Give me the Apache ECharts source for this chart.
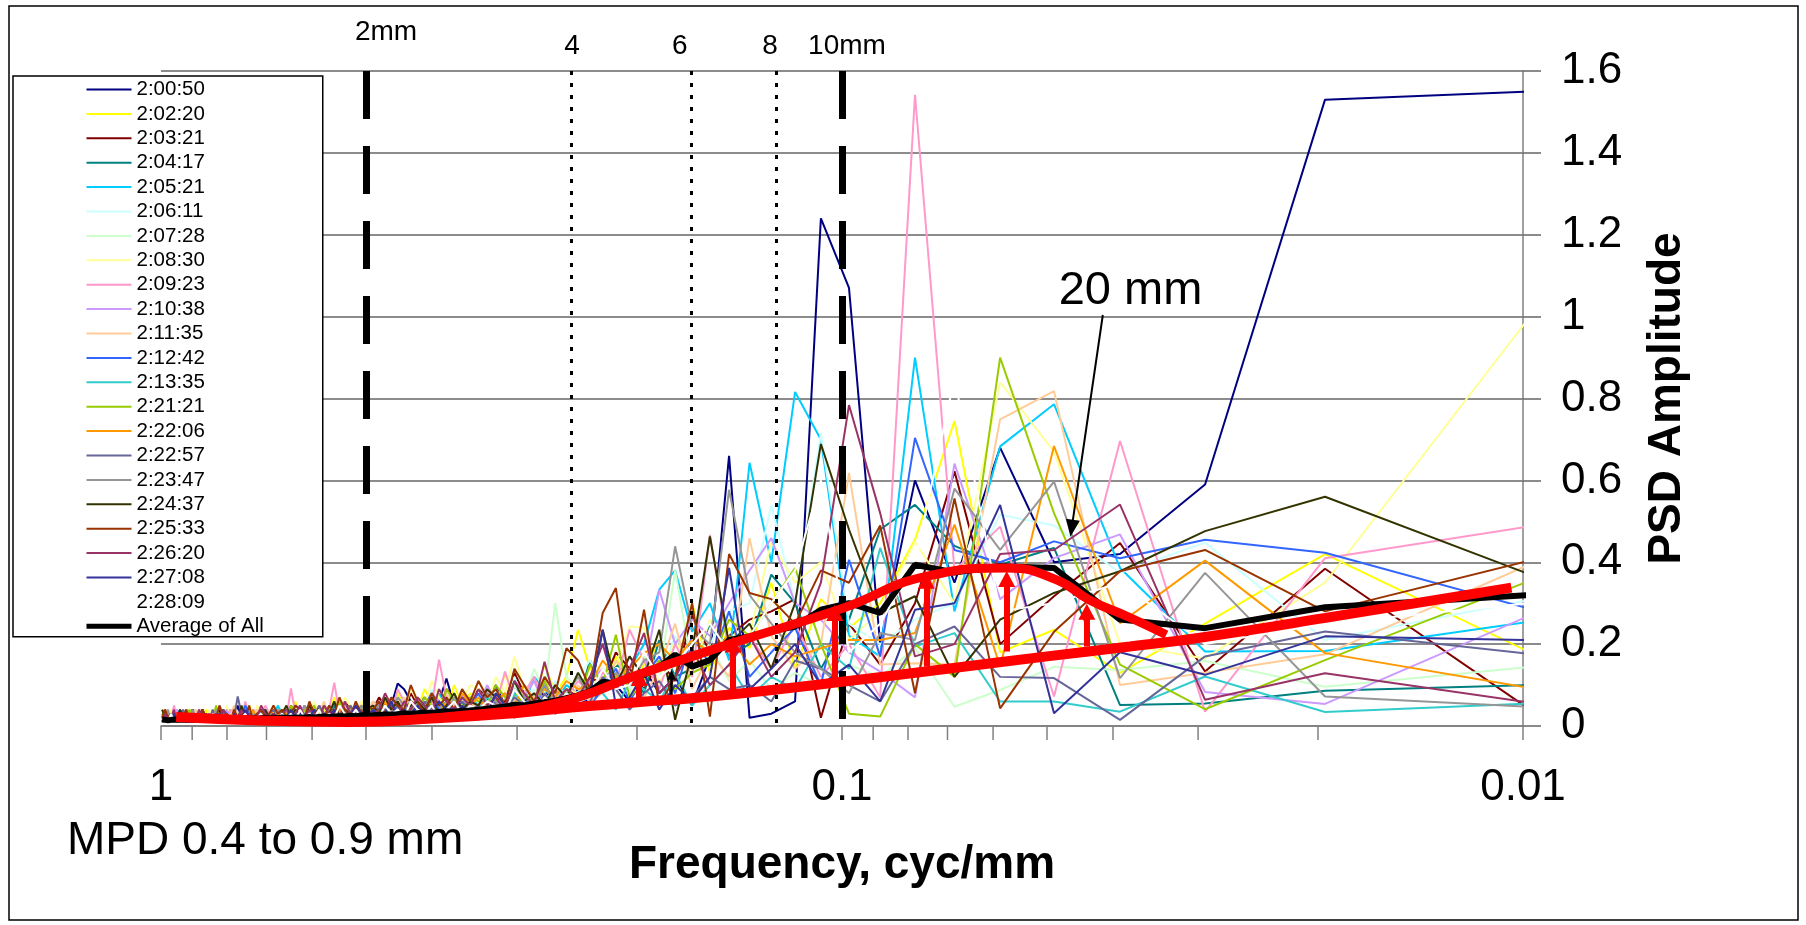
<!DOCTYPE html>
<html lang="en">
<head>
<meta charset="UTF-8">
<title>PSD Amplitude</title>
<script src="https://cdn.jsdelivr.net/npm/echarts@6/dist/echarts.min.js"></script>
<style>
    html, body { margin: 0; padding: 0; background: #fff; }
    #chart { width: 1806px; height: 925px; }
</style>
</head>
<body>
<div id="chart"></div>
<script type="text/javascript">
// frequency of each PSD point, cyc/mm (k / 102.4, k = 1..102)
var freqs = [
    0.00977, 0.01953, 0.02930, 0.03906, 0.04883, 0.05859, 0.06836, 0.07813, 0.08789, 0.09766,
    0.1074, 0.1172, 0.1270, 0.1367, 0.1465, 0.1563, 0.1660, 0.1758, 0.1855, 0.1953,
    0.2051, 0.2148, 0.2246, 0.2344, 0.2441, 0.2539, 0.2637, 0.2734, 0.2832, 0.2930,
    0.3027, 0.3125, 0.3223, 0.3320, 0.3418, 0.3516, 0.3613, 0.3711, 0.3809, 0.3906,
    0.4004, 0.4102, 0.4199, 0.4297, 0.4395, 0.4492, 0.4590, 0.4688, 0.4785, 0.4883,
    0.4980, 0.5078, 0.5176, 0.5273, 0.5371, 0.5469, 0.5566, 0.5664, 0.5762, 0.5859,
    0.5957, 0.6055, 0.6152, 0.6250, 0.6348, 0.6445, 0.6543, 0.6641, 0.6738, 0.6836,
    0.6934, 0.7031, 0.7129, 0.7227, 0.7324, 0.7422, 0.7520, 0.7617, 0.7715, 0.7813,
    0.7910, 0.8008, 0.8105, 0.8203, 0.8301, 0.8398, 0.8496, 0.8594, 0.8691, 0.8789,
    0.8887, 0.8984, 0.9082, 0.9180, 0.9277, 0.9375, 0.9473, 0.9570, 0.9668, 0.9766,
    0.9863, 0.9961
];

// PSD amplitude per run, same order as freqs
var run_2_00_50 = [1.55,1.53,.59,.42,.40,.68,.35,.60,.20,1.07,1.24,.06,
    .03,.02,.66,.17,.05,.12,.08,.14,.06,.10,.10,.05,.09,
    .07,.05,.09,.04,.06,.08,.05,.10,.06,.04,
    .05,.07,.05,.116,.06,.04,.07,.05,.06,.09,.104,.05,.03,.06,.04,
    .03,.05,.04,.02,.06,.03,.04,.05,.02,.03,.04,.02,.05,.03,.02,.04,.03,.02,.03,.04,
    .02,.03,.02,.04,.02,.01,.03,.02,.05,.02,.03,.01,.02,.04,.02,.03,.02,.01,.03,.02,.02,.04,.02,.03,.01,.02,.03,.02,.01,.03,.02,.02];
var run_2_02_20 = [.18,.42,.25,.13,.235,.18,.745,.455,.30,.24,.31,.14,
    .35,.19,.24,.13,.30,.12,.20,.15,.09,.17,.11,.14,.235,
    .12,.08,.15,.06,.10,.07,.13,.05,.09,.06,
    .08,.05,.10,.04,.07,.06,.09,.04,.06,.05,.08,.03,.06,.04,.05,
    .04,.06,.03,.05,.02,.04,.07,.03,.04,.02,.05,.03,.04,.02,.06,.03,.02,.04,.03,.02,
    .03,.02,.04,.02,.03,.05,.02,.01,.03,.02,.04,.02,.03,.01,.02,.03,.02,.04,.01,.02,.03,.02,.01,.03,.02,.04,.02,.01,.03,.02,.03,.04];
var run_2_03_21 = [.04,.384,.133,.447,.317,.20,.622,.30,.15,.25,.02,.31,
    .28,.26,.22,.18,.27,.11,.16,.09,.14,.18,.10,.12,.07,
    .09,.06,.11,.05,.08,.13,.06,.04,.07,.09,
    .05,.03,.07,.09,.04,.06,.03,.05,.08,.04,.06,.03,.05,.07,.04,
    .03,.05,.02,.04,.06,.03,.02,.04,.03,.05,.02,.03,.04,.02,.03,.05,.02,.03,.04,.02,
    .02,.04,.01,.03,.02,.03,.02,.04,.02,.01,.03,.02,.03,.01,.04,.02,.02,.03,.01,.02,.03,.04,.02,.01,.02,.03,.02,.03,.01,.02,.04,.02];
var run_2_04_17 = [.10,.086,.055,.051,.435,.394,.44,.54,.48,.26,.14,.30,
    .37,.20,.17,.25,.14,.12,.21,.08,.13,.15,.10,.16,.06,
    .05,.08,.04,.07,.10,.05,.03,.06,.08,.04,
    .03,.06,.04,.02,.05,.07,.03,.04,.02,.05,.03,.06,.02,.04,.03,
    .02,.04,.03,.01,.03,.02,.05,.02,.03,.01,.04,.02,.03,.02,.01,.03,.02,.04,.02,.01,
    .02,.01,.03,.02,.01,.02,.03,.01,.02,.04,.01,.02,.01,.03,.02,.01,.02,.03,.01,.02,.02,.01,.03,.02,.01,.02,.01,.03,.02,.01,.02,.01];
var run_2_05_21 = [.255,.183,.182,.386,.786,.683,.28,.90,.17,.22,.70,.816,
    .40,.643,.16,.30,.23,.38,.333,.20,.14,.12,.10,.11,.08,
    .10,.06,.09,.12,.05,.07,.04,.08,.06,.05,
    .07,.04,.06,.03,.08,.05,.04,.06,.03,.05,.07,.04,.03,.05,.02,
    .04,.03,.05,.02,.04,.03,.06,.02,.03,.04,.02,.05,.03,.02,.04,.03,.02,.03,.05,.02,
    .03,.02,.04,.02,.01,.03,.02,.03,.01,.02,.04,.02,.03,.02,.01,.03,.02,.02,.04,.01,.02,.03,.02,.01,.03,.02,.02,.04,.01,.03,.02,.03];
var run_2_06_11 = [.308,.21,.448,.374,.49,.516,.30,.26,.20,.25,.715,.30,
    .54,.30,.28,.20,.15,.22,.12,.18,.09,.14,.11,.16,.12,
    .07,.11,.05,.09,.06,.12,.04,.08,.05,.07,
    .06,.04,.08,.03,.05,.09,.04,.06,.03,.07,.04,.05,.03,.06,.04,
    .03,.05,.02,.04,.03,.05,.02,.03,.06,.02,.04,.03,.02,.05,.03,.02,.04,.02,.03,.02,
    .02,.03,.02,.04,.01,.02,.03,.02,.01,.03,.02,.04,.02,.01,.03,.02,.03,.01,.02,.03,.02,.01,.04,.02,.02,.03,.01,.02,.03,.02,.01,.02];
var run_2_07_28 = [.144,.096,.159,.137,.145,.088,.047,.19,.12,.15,.10,.13,
    .09,.16,.11,.20,.14,.38,.12,.17,.08,.13,.10,.06,.09,
    .12,.30,.08,.14,.06,.10,.05,.09,.07,.11,
    .05,.08,.04,.06,.09,.03,.05,.07,.04,.06,.03,.05,.08,.04,.03,
    .05,.03,.04,.02,.06,.03,.04,.02,.05,.03,.02,.04,.03,.05,.02,.03,.04,.02,.03,.02,
    .03,.02,.01,.03,.02,.04,.02,.03,.01,.02,.03,.02,.04,.01,.02,.03,.02,.01,.03,.02,.04,.02,.01,.03,.02,.02,.03,.01,.02,.04,.02,.03];
var run_2_08_30 = [1.0,.35,.165,.20,.67,.84,.30,.45,.28,.21,.40,.35,
    .45,.22,.18,.26,.13,.21,.10,.24,.243,.15,.12,.10,.08,
    .09,.06,.11,.07,.09,.17,.08,.12,.05,.09,
    .10,.06,.08,.04,.07,.11,.05,.06,.09,.04,.07,.05,.08,.03,.06,
    .04,.06,.03,.05,.07,.03,.04,.02,.05,.03,.06,.02,.04,.03,.05,.02,.03,.04,.02,.03,
    .04,.02,.03,.05,.02,.03,.01,.04,.02,.03,.02,.05,.01,.02,.03,.02,.04,.02,.01,.03,.02,.03,.04,.02,.01,.03,.02,.02,.04,.01,.03,.02];
var run_2_09_23 = [.488,.41,.035,.696,.072,.487,.38,1.542,.07,.20,.12,.25,
    .14,.22,.18,.467,.12,.20,.09,.16,.235,.10,.13,.08,.11,
    .07,.10,.05,.12,.08,.06,.133,.05,.09,.04,
    .06,.08,.04,.07,.162,.05,.03,.07,.04,.06,.09,.03,.05,.04,.06,
    .03,.05,.04,.02,.06,.03,.106,.04,.02,.05,.03,.04,.02,.05,.03,.092,.02,.04,.03,.02,
    .03,.05,.02,.03,.04,.02,.06,.02,.03,.01,.04,.02,.03,.05,.02,.01,.03,.02,.04,.02,.03,.01,.02,.04,.02,.03,.02,.05,.01,.02,.03,.02];
var run_2_10_38 = [.27,.054,.083,.468,.41,.31,.641,.07,.133,.18,.26,.30,
    .459,.38,.30,.22,.26,.20,.333,.12,.17,.09,.14,.11,.08,
    .06,.09,.05,.11,.07,.04,.08,.06,.10,.05,
    .04,.07,.05,.03,.06,.08,.04,.05,.03,.07,.04,.06,.03,.05,.04,
    .03,.02,.05,.03,.04,.02,.03,.05,.02,.04,.03,.02,.05,.03,.02,.04,.03,.02,.04,.03,
    .02,.03,.01,.02,.04,.02,.03,.02,.01,.03,.02,.04,.02,.03,.01,.02,.03,.02,.01,.04,.02,.03,.02,.01,.02,.03,.04,.02,.01,.03,.02,.02];
var run_2_11_35 = [.395,.175,.13,.10,.818,.749,.15,.153,.15,.618,.20,.14,
    .22,.459,.12,.18,.09,.25,.14,.07,.12,.16,.08,.06,.10,
    .05,.08,.04,.07,.10,.06,.03,.08,.05,.04,
    .06,.03,.05,.08,.04,.02,.06,.04,.05,.07,.03,.05,.02,.04,.06,
    .02,.04,.03,.05,.02,.03,.04,.02,.06,.03,.02,.04,.03,.02,.05,.03,.02,.03,.04,.02,
    .03,.01,.02,.04,.02,.03,.02,.01,.03,.05,.02,.02,.03,.01,.04,.02,.03,.02,.01,.02,.04,.02,.03,.01,.02,.03,.02,.01,.03,.02,.04,.02];
var run_2_12_42 = [.286,.423,.455,.41,.451,.40,.43,.704,.17,.406,.10,.24,
    .18,.12,.28,.15,.22,.08,.17,.12,.06,.14,.09,.05,.07,
    .08,.05,.10,.04,.07,.09,.05,.06,.03,.08,
    .05,.07,.03,.06,.04,.08,.05,.03,.06,.04,.05,.07,.03,.04,.05,
    .04,.02,.05,.03,.04,.06,.02,.03,.05,.02,.04,.03,.02,.04,.05,.02,.03,.04,.02,.03,
    .02,.04,.03,.01,.02,.03,.05,.02,.01,.03,.02,.03,.04,.02,.01,.02,.03,.02,.04,.01,.03,.02,.02,.03,.01,.04,.02,.03,.02,.01,.02,.03];
var run_2_13_35 = [.055,.034,.121,.035,.06,.06,.227,.194,.435,.14,.20,.09,
    .12,.07,.15,.10,.05,.13,.06,.09,.11,.04,.08,.10,.05,
    .04,.07,.03,.06,.05,.08,.03,.05,.07,.04,
    .03,.05,.04,.02,.06,.03,.05,.04,.02,.04,.03,.05,.02,.03,.04,
    .02,.03,.04,.02,.03,.01,.04,.02,.03,.02,.04,.01,.03,.02,.03,.04,.02,.01,.03,.02,
    .01,.02,.03,.01,.02,.01,.03,.02,.01,.02,.03,.01,.02,.02,.01,.03,.02,.01,.02,.01,.03,.02,.01,.02,.02,.01,.03,.01,.02,.01,.02,.02];
var run_2_21_21 = [.355,.161,.041,.15,.52,.90,.12,.20,.023,.03,.20,.386,
    .30,.22,.26,.15,.13,.09,.16,.11,.07,.223,.10,.15,.06,
    .09,.05,.11,.06,.08,.04,.07,.10,.05,.06,
    .07,.04,.06,.09,.03,.05,.07,.04,.06,.03,.05,.04,.07,.03,.05,
    .03,.05,.02,.04,.03,.06,.02,.04,.03,.02,.05,.03,.04,.02,.03,.05,.02,.04,.03,.02,
    .02,.03,.04,.02,.01,.03,.02,.04,.02,.03,.01,.02,.03,.02,.05,.01,.02,.03,.02,.01,.03,.02,.04,.02,.01,.03,.02,.02,.03,.01,.02,.03];
var run_2_22_06 = [.093,.178,.404,.251,.684,.145,.492,.227,.21,.21,.19,.17,
    .20,.15,.22,.18,.21,.16,.20,.178,.14,.12,.16,.10,.09,
    .11,.07,.09,.06,.10,.05,.08,.06,.04,.07,
    .05,.08,.04,.06,.03,.07,.05,.04,.06,.03,.05,.04,.06,.03,.04,
    .03,.04,.02,.05,.03,.04,.02,.03,.05,.02,.03,.04,.02,.03,.02,.04,.03,.02,.03,.04,
    .02,.03,.02,.01,.04,.02,.03,.02,.01,.03,.02,.02,.04,.01,.02,.03,.02,.01,.03,.02,.03,.01,.02,.04,.02,.01,.03,.02,.02,.03,.01,.02];
var run_2_22_57 = [.176,.231,.17,.015,.117,.12,.243,.20,.06,.10,.14,.16,
    .06,.10,.09,.12,.07,.05,.11,.08,.04,.09,.12,.06,.05,
    .06,.04,.08,.03,.05,.07,.04,.06,.03,.05,
    .04,.06,.03,.05,.02,.04,.06,.03,.04,.02,.05,.03,.04,.06,.03,
    .02,.04,.03,.05,.02,.03,.04,.02,.03,.05,.02,.04,.03,.02,.03,.04,.02,.03,.02,.04,
    .03,.02,.04,.02,.01,.03,.02,.03,.072,.02,.03,.01,.02,.03,.02,.04,.01,.02,.03,.02,.02,.01,.03,.02,.04,.02,.01,.03,.02,.02,.03,.01];
var run_2_23_47 = [.047,.072,.374,.117,.597,.43,.58,.21,.227,.08,.14,.18,
    .25,.32,.577,.20,.24,.439,.18,.16,.10,.13,.09,.07,.12,
    .08,.06,.10,.05,.07,.09,.04,.06,.08,.05,
    .06,.04,.07,.03,.05,.08,.04,.06,.03,.05,.07,.04,.03,.05,.04,
    .03,.05,.02,.04,.03,.05,.02,.04,.03,.02,.04,.03,.05,.02,.03,.04,.02,.03,.04,.02,
    .03,.02,.04,.02,.03,.01,.02,.04,.02,.03,.02,.01,.03,.02,.04,.02,.03,.01,.02,.03,.02,.04,.01,.02,.03,.02,.02,.03,.01,.04,.02,.02];
var run_2_24_37 = [.37,.56,.476,.378,.325,.26,.12,.317,.276,.48,.689,.30,
    .14,.25,.20,.463,.18,.015,.235,.12,.17,.10,.235,.08,.13,
    .07,.10,.05,.08,.06,.11,.04,.07,.09,.05,
    .06,.04,.08,.05,.03,.07,.04,.06,.05,.03,.06,.04,.07,.03,.05,
    .04,.02,.05,.03,.04,.02,.06,.03,.02,.04,.03,.05,.02,.03,.04,.02,.05,.03,.02,.03,
    .02,.04,.01,.03,.02,.03,.02,.05,.01,.02,.03,.02,.04,.02,.01,.03,.02,.02,.04,.01,.03,.02,.03,.01,.02,.04,.02,.01,.03,.02,.02,.04];
var run_2_25_33 = [.404,.28,.43,.378,.23,.043,.556,.08,.49,.35,.38,.25,
    .31,.325,.42,.023,.30,.12,.05,.284,.10,.337,.276,.09,.16,
    .19,.08,.12,.06,.10,.14,.05,.09,.07,.11,
    .06,.09,.04,.07,.05,.08,.03,.06,.10,.04,.05,.07,.03,.06,.04,
    .05,.03,.06,.02,.04,.07,.03,.05,.02,.04,.03,.06,.02,.04,.05,.03,.02,.04,.03,.05,
    .03,.02,.04,.03,.01,.05,.02,.03,.02,.04,.01,.03,.02,.05,.02,.03,.01,.02,.04,.02,.03,.02,.01,.04,.02,.03,.02,.01,.03,.02,.04,.02];
var run_2_26_20 = [.057,.129,.064,.541,.43,.42,.20,.17,.52,.784,.35,.18,
    .12,.22,.15,.10,.19,.12,.08,.227,.14,.09,.20,.12,.07,
    .09,.06,.157,.05,.08,.11,.04,.07,.05,.09,
    .05,.07,.04,.06,.09,.03,.05,.07,.04,.06,.03,.05,.08,.04,.03,
    .04,.02,.05,.03,.06,.02,.04,.03,.05,.02,.03,.04,.02,.05,.03,.02,.04,.03,.02,.03,
    .02,.03,.05,.02,.01,.03,.02,.04,.02,.03,.01,.02,.04,.02,.03,.02,.01,.03,.02,.04,.02,.01,.03,.02,.02,.03,.01,.04,.02,.02,.03,.01];
var run_2_27_08 = [.21,.219,.125,.18,.031,.54,.30,.284,.06,.15,.10,.20,
    .14,.09,.386,.12,.06,.10,.04,.13,.07,.05,.235,.08,.04,
    .05,.03,.07,.04,.06,.02,.05,.08,.03,.04,
    .03,.05,.02,.04,.06,.03,.02,.05,.03,.04,.02,.06,.03,.02,.04,
    .02,.03,.05,.02,.03,.01,.04,.02,.03,.02,.04,.02,.01,.03,.02,.04,.02,.03,.01,.02,
    .02,.01,.03,.02,.01,.02,.04,.01,.02,.03,.01,.02,.01,.03,.02,.01,.02,.03,.01,.02,.02,.01,.03,.01,.02,.02,.01,.03,.02,.01,.02,.01];
var run_2_28_09 = [.30,.25,.20,.35,.30,.28,.85,.40,.25,.18,.60,.38,
    .30,.22,.18,.25,.20,.15,.12,.18,.10,.09,.14,.07,.06,
    .08,.05,.07,.04,.06,.09,.03,.05,.06,.04,
    .05,.03,.06,.04,.02,.05,.03,.04,.06,.02,.04,.03,.05,.02,.03,
    .03,.02,.04,.02,.03,.05,.02,.03,.01,.04,.02,.03,.02,.04,.01,.03,.02,.03,.02,.01,
    .02,.01,.03,.02,.02,.01,.03,.02,.01,.02,.03,.01,.02,.02,.01,.03,.01,.02,.02,.01,.02,.03,.01,.02,.01,.02,.02,.01,.03,.01,.02,.01];
var averageOfAll = [.32,.29,.239,.26,.386,.39,.375,.394,.276,.30,.284,.243,
    .231,.219,.21,.161,.145,.174,.145,.125,.121,.104,.108,.085,.075,
    .068,.062,.058,.055,.05,.052,.047,.045,.042,.04,
    .038,.037,.035,.036,.034,.032,.033,.031,.03,.031,.029,.028,.028,.027,.026,
    .025,.026,.024,.025,.023,.024,.023,.022,.023,.022,.021,.022,.021,.02,.021,.02,.02,.021,.019,.02,
    .019,.02,.019,.018,.019,.018,.019,.018,.017,.018,.017,.018,.017,.016,.017,.016,.017,.016,.016,.017,.016,.015,.016,.015,.016,.015,.015,.016,.015,.014,.015,.016];

var runNames = ['2:00:50', '2:02:20', '2:03:21', '2:04:17', '2:05:21', '2:06:11', '2:07:28', '2:08:30',
    '2:09:23', '2:10:38', '2:11:35', '2:12:42', '2:13:35', '2:21:21', '2:22:06', '2:22:57',
    '2:23:47', '2:24:37', '2:25:33', '2:26:20', '2:27:08', '2:28:09'];
var runs = [run_2_00_50, run_2_02_20, run_2_03_21, run_2_04_17, run_2_05_21, run_2_06_11, run_2_07_28,
    run_2_08_30, run_2_09_23, run_2_10_38, run_2_11_35, run_2_12_42, run_2_13_35, run_2_21_21,
    run_2_22_06, run_2_22_57, run_2_23_47, run_2_24_37, run_2_25_33, run_2_26_20, run_2_27_08, run_2_28_09];

// the two red trend curves
var fitLowFreq = [0.95, 0.7, 0.53, 0.4, 0.3, 0.25, 0.2, 0.156, 0.1, 0.07, 0.05, 0.0378, 0.03, 0.0195, 0.0104];
var fitLowVal = [0.022, 0.013, 0.01, 0.018, 0.032, 0.045, 0.058, 0.072, 0.108, 0.14, 0.17, 0.194, 0.215, 0.264, 0.338];
var fitHighFreq = [0.45, 0.35, 0.26, 0.198, 0.1445, 0.1, 0.075, 0.0573, 0.0484, 0.0433, 0.0378, 0.0334];
var fitHighVal = [0.014, 0.028, 0.058, 0.127, 0.203, 0.287, 0.366, 0.386, 0.357, 0.308, 0.265, 0.223];

// red arrows between the curves
var arrowFreq = [0.1985, 0.1445, 0.1025, 0.0752, 0.0573, 0.0437];
var arrowFrom = [0.064, 0.088, 0.113, 0.145, 0.182, 0.194];
var arrowTo = [0.137, 0.219, 0.296, 0.375, 0.379, 0.299];
var smallArrow = [0.178, 0.068, 0.137];

// wavelength marker lines (1/2mm ... 1/10mm)
var refFreq = [0.5, 0.25, 0.1667, 0.125, 0.1];
var refText = ['2mm', '4', '6', '8', '10mm'];

// "20 mm" note: text point, arrow start, arrow tip
var noteText = [0.0377, 1.062];
var noteFrom = [0.0414, 1.004];
var noteTo = [0.0460, 0.463];

var minorTicks = [0.02, 0.03, 0.04, 0.05, 0.06, 0.07, 0.08, 0.09, 0.2, 0.3, 0.4, 0.5, 0.6, 0.7, 0.8, 0.9];

var runColors = ['#000080', '#FFFF00', '#800000', '#008080', '#00CCFF', '#CCFFFF', '#CCFFCC', '#FFFF99',
    '#FF99CC', '#CC99FF', '#FFCC99', '#3366FF', '#33CCCC', '#99CC00', '#FF9900', '#666699',
    '#969696', '#333300', '#993300', '#993366', '#333399', '#FFFFFF'];

var FONT = '"Liberation Sans", Arial, sans-serif';

function pairs(fs, vs) {
    return fs.map(function (f, i) { return [f, vs[i]]; });
}

var series = [];
runs.forEach(function (vals, i) {
    series.push({
        name: runNames[i], type: 'line', z: 2, symbol: 'none', silent: true,
        data: pairs(freqs, vals),
        lineStyle: { color: runColors[i], width: 2 },
        itemStyle: { color: runColors[i] }
    });
});

// marker lines and their labels
var refLines = refFreq.map(function (f, i) {
    var bold = (i === 0 || i === 4);
    return [
        { coord: [f, 1.6], lineStyle: { color: '#000', width: bold ? 7 : 3, type: bold ? [48, 27] : [4, 8] } },
        { coord: [f, 0] }
    ];
});
var refLabelOffset = [[20, -39], [1, -25], [-11, -25], [-6, -25], [5, -25]];
series.push({
    type: 'scatter', z: 3, silent: true, clip: false,
    symbolSize: 1, itemStyle: { color: 'rgba(0,0,0,0)', opacity: 1 },
    data: refFreq.map(function (f, i) {
        return { value: [f, 1.6], label: { formatter: refText[i], offset: refLabelOffset[i] } };
    }),
    label: { show: true, position: 'inside', fontSize: 28, color: '#000', opacity: 1, fontFamily: FONT },
    markLine: {
        silent: true, symbol: ['none', 'none'], animation: false,
        label: { show: false },
        data: refLines
    }
});

series.push({
    name: 'Average of All', type: 'line', z: 4, symbol: 'none', silent: true,
    data: pairs(freqs, averageOfAll),
    lineStyle: { color: '#000', width: 6 },
    itemStyle: { color: '#000' }
});

series.push({
    type: 'line', z: 5, symbol: 'none', smooth: true, silent: true,
    data: pairs(fitLowFreq, fitLowVal),
    lineStyle: { color: '#FF0000', width: 10 }
});
series.push({
    type: 'line', z: 5, symbol: 'none', smooth: true, silent: true,
    data: pairs(fitHighFreq, fitHighVal),
    lineStyle: { color: '#FF0000', width: 9 }
});

// arrows and the 20 mm note
var arrowLines = arrowFreq.map(function (f, i) {
    return [
        { coord: [f, arrowFrom[i]], lineStyle: { color: '#FF0000', width: 6, type: 'solid' }, symbolSize: [17, 16] },
        { coord: [f, arrowTo[i] - 0.02], symbolSize: [17, 16], itemStyle: { color: '#FF0000' } }
    ];
});
series.push({
    type: 'scatter', z: 6, silent: true, clip: false,
    symbolSize: 1, itemStyle: { color: 'rgba(0,0,0,0)', opacity: 1 },
    data: [{ value: noteText }],
    label: { show: true, position: 'inside', formatter: '20 mm', fontSize: 47, color: '#000',
        opacity: 1, textBorderWidth: 0, fontFamily: FONT },
    markLine: {
        silent: true, animation: false, symbol: ['none', 'triangle'],
        label: { show: false },
        data: arrowLines.concat([
            [{ coord: [smallArrow[0], smallArrow[1]], lineStyle: { color: '#000', width: 2.5, type: 'solid' }, symbolSize: [9, 10] },
             { coord: [smallArrow[0], smallArrow[2] - 0.012], symbolSize: [9, 10], itemStyle: { color: '#000' } }],
            [{ coord: noteFrom, lineStyle: { color: '#000', width: 2, type: 'solid' }, symbolSize: [14, 17] },
             { coord: [noteTo[0], noteTo[1] + 0.02], symbolSize: [14, 17], itemStyle: { color: '#000' } }]
        ])
    }
});

// minor log ticks under the x axis
series.push({
    type: 'scatter', z: 1, silent: true, clip: false,
    data: minorTicks.map(function (f) { return [f, 0]; }),
    symbol: 'rect', symbolSize: [1.5, 14], symbolOffset: [0, 7],
    itemStyle: { color: '#808080', opacity: 1 }
});

var legendData = runNames.map(function (n) { return { name: n }; });
legendData.push({ name: 'Average of All', lineStyle: { width: 5 } });

var chart = echarts.init(document.getElementById('chart'));
chart.setOption({
    animation: false,
    backgroundColor: '#fff',
    textStyle: { fontFamily: FONT },
    grid: { left: 161, right: 283, top: 71, bottom: 199, containLabel: false, outerBoundsMode: 'none' },
    legend: {
        data: legendData,
        orient: 'vertical', left: 13, top: 76, align: 'left',
        itemWidth: 45, itemHeight: 14, itemGap: 3.4,
        padding: [3, 59, 0, 71],
        backgroundColor: '#fff', borderColor: '#000', borderWidth: 1.5,
        selectedMode: false,
        itemStyle: { opacity: 0 },
        lineStyle: { width: 2 },
        textStyle: { fontSize: 20.5, color: '#000', fontFamily: FONT }
    },
    xAxis: {
        type: 'log', logBase: 10, min: 0.01, max: 1, inverse: true,
        name: 'Frequency, cyc/mm', nameLocation: 'middle', nameGap: 116,
        nameTextStyle: { fontSize: 46, fontWeight: 'bold', color: '#000', fontFamily: FONT },
        axisLine: { show: true, lineStyle: { color: '#808080', width: 1.5 } },
        axisTick: { show: true, length: 14, lineStyle: { color: '#808080', width: 1.5 } },
        axisLabel: { fontSize: 44, color: '#000', margin: 40, fontFamily: FONT },
        splitLine: { show: false },
        minorTick: { show: false }
    },
    yAxis: {
        type: 'value', position: 'right', min: 0, max: 1.6, interval: 0.2,
        name: 'PSD Amplitude', nameLocation: 'middle', nameRotate: 90, nameGap: 121,
        nameTextStyle: { fontSize: 46, fontWeight: 'bold', color: '#000', fontFamily: FONT },
        axisLine: { show: true, lineStyle: { color: '#808080', width: 1.5 } },
        axisTick: { show: true, length: 18, lineStyle: { color: '#666', width: 1.5 } },
        axisLabel: { fontSize: 44, color: '#000', margin: 38, fontFamily: FONT },
        splitLine: { show: true, lineStyle: { color: '#666', width: 1.5 } }
    },
    graphic: [
        { type: 'rect', z: 100, silent: true, shape: { x: 9, y: 6, width: 1789, height: 914 },
          style: { fill: 'none', stroke: '#000', lineWidth: 1.5 } },
        { type: 'text', z: 100, silent: true, x: 67, y: 841,
          style: { text: 'MPD 0.4 to 0.9 mm', font: '46px ' + FONT, fill: '#000', verticalAlign: 'middle' } }
    ],
    series: series
});
</script>
</body>
</html>
